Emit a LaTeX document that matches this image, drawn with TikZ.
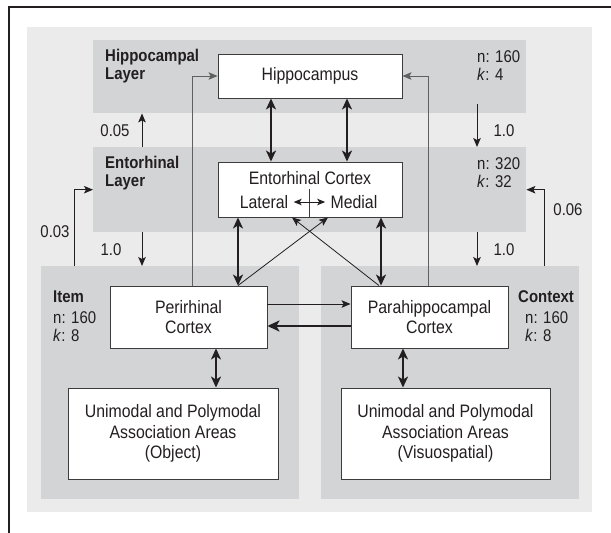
\documentclass[tikz,border=0pt]{standalone}
\usepackage{fontspec}
\setmainfont{Liberation Sans}[FakeStretch=0.88]
\usetikzlibrary{arrows.meta}
\definecolor{bgl}{HTML}{EBEBEB}
\definecolor{band}{HTML}{D3D4D5}
\definecolor{ink}{HTML}{231F20}
\definecolor{edge}{HTML}{3C3C3C}
\definecolor{fb}{HTML}{606060}
\begin{document}
\begin{tikzpicture}[x=1pt,y=-1pt,
  box/.style={draw=edge,line width=0.9pt,fill=white,inner sep=0pt,align=center,text=ink,font=\fontsize{18}{20.5}\selectfont},
  bandbox/.style={fill=band,inner sep=0pt,anchor=north west},
  lab/.style={inner sep=0pt,text=ink,font=\fontsize{17}{18}\selectfont,align=left},
  blab/.style={lab,font=\fontsize{17}{18}\selectfont\bfseries},
  thin/.style={-{Stealth[length=9pt,width=7.5pt,inset=2pt]},line width=1pt,draw=ink},
  fbline/.style={-{Stealth[length=9pt,width=7.5pt,inset=2pt]},line width=1pt,draw=fb},
  thick/.style={{Stealth[length=11pt,width=10pt,inset=3pt]}-{Stealth[length=11pt,width=10pt,inset=3pt]},line width=2.3pt,draw=ink},
  heavy/.style={-{Stealth[length=12pt,width=11pt,inset=3pt]},line width=2.3pt,draw=ink}]
\useasboundingbox (0,0) rectangle (611,533);
% frame and backgrounds
\draw[line width=1.2pt,ink] (9,540) -- (9,7) -- (620,7);
\node[bandbox,fill=bgl,minimum width=565pt,minimum height=485pt] (bg) at (27,27) {};
\node[bandbox,minimum width=433pt,minimum height=73pt] (hband) at (93,40) {};
\node[bandbox,minimum width=433pt,minimum height=85pt] (eband) at (93,147) {};
\node[bandbox,minimum width=258pt,minimum height=233pt] (iband) at (41,266) {};
\node[bandbox,minimum width=258pt,minimum height=233pt] (cband) at (321,266) {};
% column / row coordinates
\coordinate (cA) at (142,0);
\coordinate (cB) at (477,0);
\coordinate (cC) at (74,0);
\coordinate (cD) at (544,0);
\coordinate (cE) at (192,0);
\coordinate (cF) at (428,0);
\coordinate (cG) at (271,0);
\coordinate (cH) at (347,0);
\coordinate (cI) at (238,0);
\coordinate (cJ) at (381,0);
\coordinate (cK) at (216,0);
\coordinate (cL) at (403,0);
\coordinate (cM) at (328,0);
\coordinate (cN) at (292,0);
\coordinate (cO) at (379,0);
\coordinate (cQ) at (309,0);
\coordinate (r104) at (0,104);
\coordinate (r189) at (0,189);
\coordinate (r304) at (0,304);
\coordinate (r326) at (0,326);
% boxes
\node[box,minimum width=184pt,minimum height=44pt] (hip) at (310,76) {Hippocampus};
\node[box,minimum width=184pt,minimum height=55pt] (ec) at (310,189.5) {};
\node[box,minimum width=157pt,minimum height=62pt] (prc) at (188.5,317) {Perirhinal\\Cortex};
\node[box,minimum width=157pt,minimum height=62pt] (phc) at (429.5,317) {Parahippocampal\\Cortex};
\node[box,minimum width=210pt,minimum height=91pt] (uo) at (173,433.5) {Unimodal and Polymodal\\Association Areas\\(Object)};
\node[box,minimum width=209pt,minimum height=91pt] (uv) at (445.5,433.5) {Unimodal and Polymodal\\Association Areas\\(Visuospatial)};
% EC inner texts
\node[box,draw=none,fill=none] (ectitle) at (310,178) {Entorhinal Cortex};
\node[box,draw=none,fill=none,inner sep=5pt] (lat) at (264,202) {Lateral};
\node[box,draw=none,fill=none,inner sep=5pt] (med) at (354,202) {Medial};
\draw[line width=0.9pt,edge] (cQ |- r189) -- (cQ |- ec.south);
\draw[thin,{Stealth[length=8pt,width=6.5pt,inset=2pt]}-{Stealth[length=8pt,width=6.5pt,inset=2pt]}] (lat.east) -- (med.west);
% band labels
\node[blab,anchor=west] (hl) at (105,66) {Hippocampal\\Layer};
\node[blab,anchor=west] (el) at (105,173) {Entorhinal\\Layer};
\node[lab,anchor=west] (hnk) at (477,66) {n: 160\\\textit{k}: 4};
\node[lab,anchor=west] (enk) at (477,172.5) {n: 320\\\textit{k}: 32};
\node[blab,anchor=west] (il) at (53,297) {Item};
\node[lab,anchor=west] (ink) at (53,327) {n: 160\\\textit{k}: 8};
\node[blab,anchor=west] (cl) at (518,297) {Context};
\node[lab,anchor=west] (cnk) at (525,327) {n: 160\\\textit{k}: 8};
% arrow labels
\node[lab] (l05) at (115,131) {0.05};
\node[lab] (l10a) at (504,131) {1.0};
\node[lab] (l03) at (55,232) {0.03};
\node[lab] (l10b) at (111,250) {1.0};
\node[lab] (l06) at (568,210) {0.06};
\node[lab] (l10c) at (504,250) {1.0};
% layer arrows
\draw[thin] (cA |- eband.north) -- (cA |- hband.south);
\draw[thin] (cB |- r104) -- (cB |- eband.north);
\draw[thin] (cC |- iband.north) |- (eband.west);
\draw[thin] (cA |- eband.south) -- (cA |- iband.north);
\draw[thin] (cD |- cband.north) |- (eband.east);
\draw[thin] (cB |- eband.south) -- (cB |- cband.north);
% feedback to hippocampus
\draw[fbline] (cE |- prc.north) |- (hip.west);
\draw[fbline] (cF |- phc.north) |- (hip.east);
% thick double arrows
\draw[thick] (cG |- hip.south) -- (cG |- ec.north);
\draw[thick] (cH |- hip.south) -- (cH |- ec.north);
\draw[thick] (cI |- ec.south) -- (cI |- prc.north);
\draw[thick] (cJ |- ec.south) -- (cJ |- phc.north);
\draw[thick] (cK |- prc.south) -- (cK |- uo.north);
\draw[thick] (cL |- phc.south) -- (cL |- uv.north);
% cross connections
\draw[thin,line width=0.8pt] (cI |- prc.north) -- (cM |- ec.south);
\draw[thin,line width=0.8pt] (cO |- phc.north) -- (cN |- ec.south);
% PRC <-> PHC
\draw[thin] (prc.east |- r304) -- (phc.west |- r304);
\draw[heavy] (phc.west |- r326) -- (prc.east |- r326);
\end{tikzpicture}
\end{document}
